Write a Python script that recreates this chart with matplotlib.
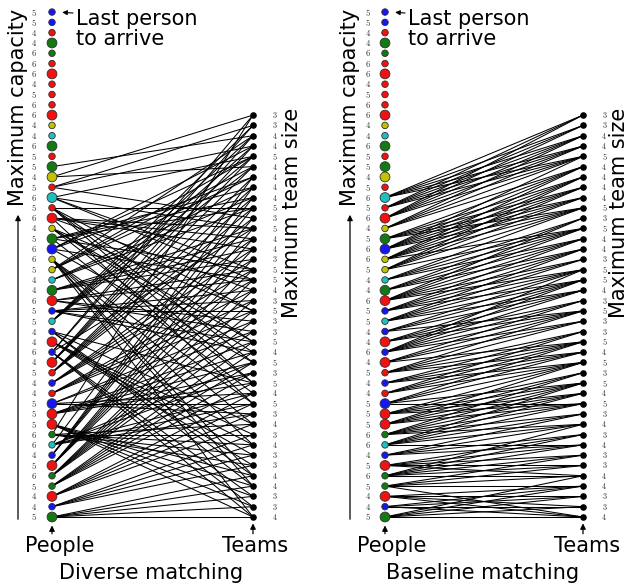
import matplotlib
matplotlib.use("Agg")
import matplotlib.pyplot as plt

plt.rcParams["mathtext.fontset"] = "cm"

# people, listed from the top (last to arrive) to the bottom (first to arrive)
person_cap = [5, 5, 4, 4, 6, 6, 6, 4, 5, 6, 6, 4, 4, 6, 5, 5, 4, 5, 6, 5, 6, 4, 5, 6, 6,
              5, 4, 4, 6, 5, 5, 4, 4, 6, 4, 5, 4, 4, 5, 5, 5, 6, 6, 4, 5, 6, 5, 4, 4, 5]
person_col = ["b", "b", "r", "g", "g", "r", "r", "r", "r", "r", "r", "y", "c", "g", "r",
              "g", "y", "r", "c", "r", "r", "y", "g", "b", "y", "y", "c", "g", "r", "b",
              "c", "b", "r", "b", "r", "r", "b", "r", "b", "r", "r", "g", "c", "b", "r",
              "g", "g", "r", "b", "g"]
person_big = [0, 0, 0, 1, 0, 0, 1, 0, 0, 0, 1, 0, 0, 1, 0, 1, 1, 0, 1, 0, 1, 0, 1, 1, 0,
              0, 0, 1, 1, 0, 0, 0, 1, 0, 1, 0, 0, 0, 1, 1, 1, 0, 0, 0, 1, 0, 0, 1, 0, 1]

# teams, listed from the top to the bottom
team_size = [3, 3, 4, 4, 5, 4, 4, 4, 4, 5, 3, 5, 4, 4, 3, 5, 5, 4, 3, 5,
             3, 3, 5, 4, 5, 3, 5, 4, 5, 3, 4, 3, 4, 3, 3, 4, 4, 3, 3, 4]

# person -> teams
diverse_edges = {
    15: [2], 16: [0, 5], 17: [1, 3, 10],
    18: [4, 11, 15, 16], 19: [9, 19, 22, 24, 26], 20: [11, 12, 13, 17, 28],
    21: [19, 22, 23, 26], 22: [7, 8, 9, 15, 27], 23: [3, 4, 6, 16, 24],
    24: [28, 30, 32, 35, 36, 39], 25: [2, 4, 5, 6], 26: [7, 8, 9],
    27: [11, 12, 13, 14], 28: [15, 16, 20, 21], 29: [17, 18, 19, 22, 23],
    30: [1, 2, 3, 4, 5], 31: [26, 30, 35, 36], 32: [31, 32, 33, 34],
    33: [0, 1, 11, 37, 38, 39], 34: [2, 3, 4, 5], 35: [6, 7, 8, 9, 10],
    36: [12, 13, 14, 15], 37: [16, 17, 18, 19], 38: [20, 21, 27, 28, 29],
    39: [22, 23, 24, 25, 26], 40: [35, 36, 37, 38, 39], 41: [0, 30, 31, 32, 33, 34],
    42: [6, 24, 25, 27, 28, 29], 43: [7, 8, 9, 10], 44: [11, 12, 13, 14, 15],
    45: [16, 17, 18, 19, 20, 21], 46: [22, 23, 24, 25, 26], 47: [27, 28, 29, 30],
    48: [31, 32, 33, 34], 49: [35, 36, 37, 38, 39],
}
baseline_edges = {
    18: [4, 3, 2, 1, 0], 19: [4, 3, 2, 1, 0], 20: [4, 3, 2, 1, 0], 21: [5, 4, 3, 2],
    22: [9, 8, 7, 6, 5], 23: [9, 8, 7, 6, 5, 4], 24: [11, 9, 8, 7, 6, 5],
    25: [11, 9, 8, 7, 6], 26: [12, 11, 10, 9], 27: [13, 12, 11, 10],
    28: [15, 14, 13, 12, 11, 10], 29: [16, 15, 14, 13, 12], 30: [17, 16, 15, 14, 13],
    31: [19, 17, 16, 15], 32: [19, 18, 17, 16], 33: [20, 19, 18, 17, 16, 15],
    34: [22, 20, 19, 18], 35: [23, 22, 21, 20, 19], 36: [24, 23, 22, 21],
    37: [24, 23, 22, 21], 38: [28, 26, 24, 23, 22], 39: [28, 27, 26, 25, 24],
    40: [28, 27, 26, 25, 24], 41: [30, 29, 28, 27, 26, 25], 42: [32, 30, 29, 28, 27, 26],
    43: [32, 31, 30, 29], 44: [35, 34, 33, 32, 31], 45: [35, 34, 33, 32, 31, 30],
    46: [39, 36, 35, 34, 33], 47: [39, 38, 37, 36], 48: [39, 38, 37, 36],
    49: [39, 38, 37, 36, 35],
}

color_map = {"b": "#1515f5", "r": "#f21010", "g": "#137a13", "y": "#c2c200", "c": "#1fbfbf"}

W, H = 629, 588
fig = plt.figure(figsize=(W / 100, H / 100), dpi=100)


def fpos(x, y):
    # pixel position measured from the top-left corner -> figure fraction
    return x / W, 1 - y / H


def panel(ax, edges, title, xoff, size_x):
    n_p = len(person_cap)
    n_t = len(team_size)
    py = [n_p - 1 - i for i in range(n_p)]
    ty = [n_t - 1 - k for k in range(n_t)]

    for p, ks in edges.items():
        for k in ks:
            ax.plot([0, 1], [py[p], ty[k]], color="black", lw=0.75, zorder=1)

    ax.scatter([0] * n_p, py, s=[50 if b else 22 for b in person_big],
               c=[color_map[c] for c in person_col], edgecolors="#303030",
               linewidths=0.6, zorder=3)
    ax.scatter([1] * n_t, ty, s=14, c="black", zorder=3)

    for y, c in zip(py, person_cap):
        ax.text(-0.088, y, f"${c}$", ha="center", va="center", fontsize=6.3, color="#333333")
    for y, c in zip(ty, team_size):
        ax.text(1.108, y, f"${c}$", ha="center", va="center", fontsize=6.0, color="#333333")

    ax.annotate("", xy=(0, -0.55), xytext=(0, -1.9),
                arrowprops=dict(arrowstyle="-|>", color="black", lw=0.9, mutation_scale=8))
    ax.annotate("", xy=(1, -0.35), xytext=(1, -1.9),
                arrowprops=dict(arrowstyle="-|>", color="black", lw=0.9, mutation_scale=8))
    ax.annotate("", xy=(0.03, n_p - 1), xytext=fpos(xoff + 73, 13), textcoords="figure fraction",
                arrowprops=dict(arrowstyle="-|>", color="black", lw=0.8, mutation_scale=7,
                                shrinkA=0, shrinkB=3))

    fig.text(*fpos(xoff + 76, 29), "Last person\nto arrive", ha="left", va="center",
             fontsize=15, linespacing=1.05)
    fig.text(*fpos(xoff + 18, 107), "Maximum capacity", rotation=90, ha="center",
             va="center", fontsize=15)
    fig.add_artist(matplotlib.patches.FancyArrowPatch(
        fpos(xoff + 18, 522), fpos(xoff + 18, 212), transform=fig.transFigure,
        arrowstyle="-|>", mutation_scale=8, lw=0.9, color="black"))
    fig.text(*fpos(xoff + size_x, 213), "Maximum team size", rotation=90, ha="center",
             va="center", fontsize=15)
    fig.text(*fpos(xoff + 60, 546), "People", ha="center", va="center", fontsize=15)
    fig.text(*fpos(xoff + 255, 546), "Teams", ha="center", va="center", fontsize=15)
    fig.text(*fpos(xoff + 151, 573), title, ha="center", va="center", fontsize=15)

    ax.set_ylim(-6.89, 50.17)
    ax.axis("off")


axL = fig.add_axes([0, 0, 314 / W, 1])
axL.set_xlim(-52 / 201, 262 / 201)
panel(axL, diverse_edges, "Diverse matching", 0, 292)

axR = fig.add_axes([314 / W, 0, 315 / W, 1])
axR.set_xlim(-71 / 198, 244 / 198)
panel(axR, baseline_edges, "Baseline matching", 332, 287)

fig.savefig("out.png", dpi=100)
